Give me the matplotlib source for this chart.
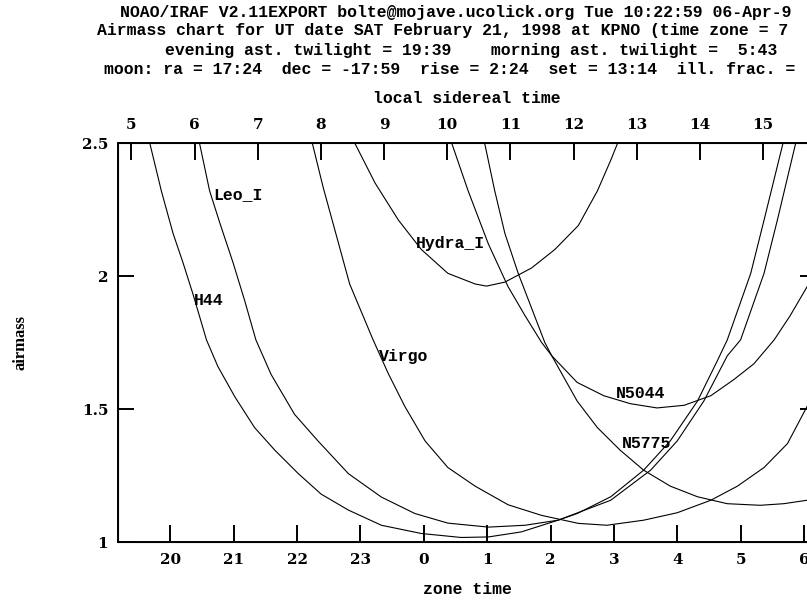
import matplotlib
matplotlib.use("Agg")
import matplotlib.pyplot as plt

# ---------------- data ----------------
# zone time in hours, continuous across midnight (24 -> 0, 25 -> 1, ...)
zt_ticks = [20, 21, 22, 23, 24, 25, 26, 27, 28, 29, 30]
zt_labels = ["20", "21", "22", "23", "0", "1", "2", "3", "4", "5", "6"]
lst_ticks = [5, 6, 7, 8, 9, 10, 11, 12, 13, 14, 15]
am_ticks = [1, 1.5, 2, 2.5]
am_labels = ["1", "1.5", "2", "2.5"]

h44_zt = [19.675, 19.858, 20.043, 20.20, 20.36, 20.57, 20.75, 21.02, 21.33, 21.65,
          22.02, 22.38, 22.81, 23.33, 23.96, 24.59, 25.02, 25.54, 26.12, 26.42,
          26.95, 27.47, 27.89, 28.32, 28.63, 28.79, 29.16, 29.37, 29.67]
h44_am = [2.50, 2.32, 2.16, 2.05, 1.93, 1.76, 1.66, 1.545, 1.43, 1.345,
          1.257, 1.18, 1.12, 1.063, 1.032, 1.017, 1.019, 1.038, 1.082, 1.107,
          1.17, 1.27, 1.38, 1.53, 1.68, 1.76, 2.01, 2.21, 2.50]

leo_zt = [20.46, 20.62, 20.78, 20.99, 21.17, 21.35, 21.59, 21.96, 22.33, 22.81,
          23.33, 23.86, 24.38, 25.02, 25.60, 26.12, 26.42, 26.95, 27.58, 28.00,
          28.42, 28.79, 29.00, 29.37, 29.58, 29.87]
leo_am = [2.50, 2.32, 2.20, 2.05, 1.91, 1.76, 1.63, 1.48, 1.38, 1.257,
          1.169, 1.107, 1.071, 1.056, 1.063, 1.082, 1.109, 1.157, 1.27, 1.38,
          1.53, 1.70, 1.76, 2.01, 2.21, 2.50]

virgo_zt = [22.24, 22.41, 22.60, 22.83, 23.20, 23.44, 23.70, 24.02, 24.38, 24.81,
            25.33, 25.86, 26.44, 26.89, 27.47, 28.00, 28.53, 28.95, 29.37, 29.74,
            30.05]
virgo_am = [2.50, 2.335, 2.17, 1.97, 1.76, 1.633, 1.51, 1.38, 1.28, 1.21,
            1.14, 1.10, 1.07, 1.063, 1.082, 1.11, 1.157, 1.21, 1.28, 1.37,
            1.51]

hydra_zt = [22.91, 23.23, 23.60, 23.96, 24.38, 24.81, 24.99, 25.28, 25.70, 26.07,
            26.44, 26.74, 26.95, 27.06]
hydra_am = [2.50, 2.35, 2.21, 2.10, 2.01, 1.97, 1.962, 1.977, 2.03, 2.10,
            2.19, 2.32, 2.435, 2.50]

n5044_zt = [24.44, 24.70, 25.02, 25.33, 25.60, 25.86, 26.02, 26.42, 26.84, 27.26,
            27.68, 28.11, 28.53, 28.89, 29.21, 29.53, 29.78, 30.05]
n5044_am = [2.50, 2.32, 2.12, 1.96, 1.85, 1.75, 1.70, 1.60, 1.55, 1.52,
            1.504, 1.514, 1.55, 1.61, 1.67, 1.76, 1.85, 1.96]

n5775_zt = [24.96, 25.12, 25.28, 25.49, 25.70, 25.91, 26.02, 26.42, 26.74, 27.10,
            27.47, 27.89, 28.32, 28.79, 29.31, 29.68, 30.05]
n5775_am = [2.50, 2.32, 2.16, 2.01, 1.88, 1.75, 1.70, 1.53, 1.43, 1.345,
            1.27, 1.21, 1.17, 1.144, 1.138, 1.144, 1.157]

objects = ["H44", "Leo_I", "Virgo", "Hydra_I", "N5044", "N5775"]
curves = [(h44_zt, h44_am), (leo_zt, leo_am), (virgo_zt, virgo_am),
          (hydra_zt, hydra_am), (n5044_zt, n5044_am), (n5775_zt, n5775_am)]
label_pos = [(20.37, 1.907), (20.67, 2.306), (23.29, 1.698),
             (23.88, 2.124), (27.03, 1.559), (27.12, 1.37)]

title_lines = [
    "NOAO/IRAF V2.11EXPORT bolte@mojave.ucolick.org Tue 10:22:59 06-Apr-9",
    "Airmass chart for UT date SAT February 21, 1998 at KPNO (time zone = 7",
    "evening ast. twilight = 19:39    morning ast. twilight =  5:43",
    "moon: ra = 17:24  dec = -17:59  rise = 2:24  set = 13:14  ill. frac. =",
]
title_x = [120, 97, 165, 104]
title_y = [12, 31, 50, 70]

# ---------------- figure ----------------
W, H = 807, 602
fig = plt.figure(figsize=(W / 100, H / 100), dpi=100)
MONO = "Liberation Mono"
SERIF = "DejaVu Serif"
plt.rcParams['font.family'] = [MONO, 'DejaVu Sans Mono']
plt.rcParams['font.weight'] = 'bold'
FS_T = 11.9   # title / labels
FS_K = 11     # tick labels

ax = fig.add_axes([118 / W, (H - 542) / H, 698 / W, 399 / H])
ax.set_xlim(19.174, 30.19)
ax.set_ylim(1.0, 2.5)

for (zt, am) in curves:
    ax.plot(zt, am, color="black", lw=0.8)

for name, (x, y) in zip(objects, label_pos):
    ax.text(x, y, name, fontsize=FS_T, fontweight="bold", ha="left", va="center")

ax.set_xticks(zt_ticks)
ax.set_xticklabels(zt_labels, fontsize=FS_K, fontweight="bold", family=SERIF)
ax.set_yticks(am_ticks)
ax.set_yticklabels(am_labels, fontsize=FS_K, fontweight="bold", family=SERIF)
ax.tick_params(axis="x", direction="in", length=12, width=1.4, pad=8, top=False)
ax.tick_params(axis="y", direction="in", length=11.5, width=1.4, pad=7, right=True)
for s in ax.spines.values():
    s.set_linewidth(1.4)
ax.set_xlabel("zone time", fontsize=FS_T, fontweight="bold", labelpad=11)
ax.set_ylabel("airmass", fontsize=12, fontweight="bold", family="Liberation Serif",
              labelpad=38)

# local sidereal time on top (linear relation to zone time)
def zt_to_lst(z):
    return 5 + 1.002738 * (z - 19.3843)

ax2 = ax.twiny()
x0, x1 = ax.get_xlim()
ax2.set_xlim(zt_to_lst(x0), zt_to_lst(x1))
ax2.set_xticks(lst_ticks)
ax2.set_xticklabels([str(v) for v in lst_ticks], fontsize=FS_K, fontweight="bold",
                    family=SERIF)
ax2.tick_params(axis="x", direction="in", length=12, width=1.4, pad=8)
ax2.set_xlabel("local sidereal time", fontsize=FS_T, fontweight="bold", labelpad=11)

for line, x, y in zip(title_lines, title_x, title_y):
    fig.text(x / W, 1 - y / H, line, fontsize=FS_T, fontweight="bold",
             ha="left", va="center")

fig.savefig("out.png", dpi=100)
